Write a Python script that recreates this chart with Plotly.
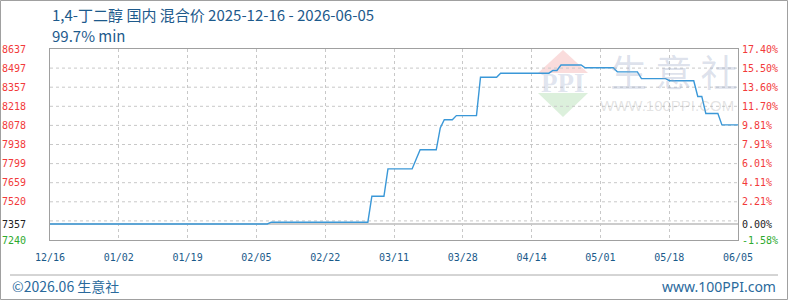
import plotly.graph_objects as go
import pandas as pd

# ---------------- data ----------------
title_line1 = "1,4-丁二醇 国内 混合价 2025-12-16 - 2026-06-05"
title_line2 = "99.7% min"
start_date = "2025-12-16"
end_date = "2026-06-05"

# price line vertices (dates where the price changes)
dates = ["2025-12-16", "2026-02-08", "2026-02-09", "2026-03-05", "2026-03-06",
         "2026-03-09", "2026-03-10", "2026-03-16", "2026-03-17", "2026-03-18",
         "2026-03-22", "2026-03-23", "2026-03-24", "2026-03-26", "2026-03-27",
         "2026-04-01", "2026-04-02", "2026-04-06", "2026-04-07", "2026-04-19",
         "2026-04-20", "2026-04-21", "2026-04-22", "2026-04-27", "2026-04-28",
         "2026-05-05", "2026-05-06", "2026-05-11", "2026-05-12", "2026-05-18",
         "2026-05-19", "2026-05-25", "2026-05-26", "2026-05-27", "2026-05-28",
         "2026-05-31", "2026-06-01", "2026-06-05"]
prices = [7357, 7357, 7370, 7370, 7560,
          7560, 7760, 7760, 7830, 7900,
          7900, 8060, 8120, 8120, 8150,
          8150, 8430, 8430, 8460, 8460,
          8480, 8480, 8520, 8520, 8500,
          8500, 8470, 8470, 8420, 8420,
          8405, 8405, 8290, 8290, 8165,
          8165, 8082, 8082]

base_price = 7357
y_min, y_max = 7240, 8637
left_labels = ["7240", "7357", "7520", "7659", "7799", "7938", "8078", "8218", "8357", "8497", "8637"]
right_labels = ["-1.58%", "0.00%", "2.21%", "4.11%", "6.01%", "7.91%", "9.81%", "11.70%", "13.60%", "15.50%", "17.40%"]
x_labels = ["12/16", "01/02", "01/19", "02/05", "02/22", "03/11", "03/28", "04/14", "05/01", "05/18", "06/05"]

# ---------------- derived positions ----------------
n_div = 10
step = (y_max - y_min) / n_div
grid_vals = [y_min + k * step for k in range(n_div + 1)]
label_vals = [y_min, base_price] + grid_vals[2:]

t0 = pd.Timestamp(start_date)
t1 = pd.Timestamp(end_date)
x_tickvals = [t0 + (t1 - t0) * k / n_div for k in range(n_div + 1)]

RED = "#f23a3a"
GREEN = "#2eaa2e"
BLACK = "#222222"
BLUE_TXT = "#1d5a8c"


def colored(labels):
    out = []
    for i, s in enumerate(labels):
        c = GREEN if i == 0 else (BLACK if i == 1 else RED)
        out.append(f'<span style="color:{c}">{s}</span>')
    return out


fig = go.Figure()
fig.add_trace(go.Scatter(x=pd.to_datetime(dates), y=prices, mode="lines",
                         line=dict(color="#3a98d8", width=1.4), hoverinfo="skip",
                         showlegend=False))
fig.add_trace(go.Scatter(x=pd.to_datetime(dates), y=prices, mode="lines",
                         line=dict(color="rgba(0,0,0,0)", width=0), yaxis="y2",
                         hoverinfo="skip", showlegend=False))

W, H = 788, 300
ML, MR, MT, MB = 50, 50, 49, 60
PL, PR, PT, PB = ML, W - MR, MT, H - MB


def px(x):
    return (x - PL) / (PR - PL)


def py(y):
    return (PB - y) / (PB - PT)


shapes = []
# watermark logo triangles
shapes.append(dict(type="path", xref="paper", yref="paper", layer="below",
                   path=f"M {px(538)} {py(73)} L {px(563)} {py(50)} L {px(588)} {py(73)} Z",
                   fillcolor="#fadcdc", line=dict(width=0)))
shapes.append(dict(type="path", xref="paper", yref="paper", layer="below",
                   path=f"M {px(538)} {py(93)} L {px(588)} {py(93)} L {px(563)} {py(117)} Z",
                   fillcolor="#dcf0dc", line=dict(width=0)))
# horizontal dashed grid
for v in grid_vals[1:-1]:
    shapes.append(dict(type="line", xref="paper", yref="y", x0=0, x1=1, y0=v, y1=v,
                       layer="between", line=dict(color="#c8c8c8", width=1, dash="3px,3px")))
# base price line
shapes.append(dict(type="line", xref="paper", yref="y", x0=0, x1=1, y0=base_price, y1=base_price,
                   layer="between", line=dict(color="#999999", width=1.2)))
# footer separator
shapes.append(dict(type="line", xref="paper", yref="paper", x0=px(10), x1=px(778),
                   y0=py(275), y1=py(275), line=dict(color="#aaaaaa", width=1)))
# outer frame
shapes.append(dict(type="rect", xref="paper", yref="paper", x0=px(0.5), x1=px(787.5),
                   y0=py(0.5), y1=py(299.5), line=dict(color="#a0a0a0", width=1)))

annotations = [
    dict(text=title_line1, xref="paper", yref="paper", x=0, y=py(15), xanchor="left",
         yanchor="middle", showarrow=False, font=dict(family="Noto Sans CJK SC", size=15, color=BLUE_TXT)),
    dict(text=title_line2, xref="paper", yref="paper", x=0, y=py(35), xanchor="left",
         yanchor="middle", showarrow=False, font=dict(family="Noto Sans CJK SC", size=15, color=BLUE_TXT)),
    dict(text="©2026.06 生意社", xref="paper", yref="paper", x=px(10), y=py(286), xanchor="left",
         yanchor="middle", showarrow=False, font=dict(family="Noto Sans CJK SC", size=14, color="#2a6a9c")),
    dict(text="www.100PPI.com", xref="paper", yref="paper", x=px(778), y=py(286), xanchor="right",
         yanchor="middle", showarrow=False, font=dict(family="Noto Sans", size=14, color="#2a6a9c")),
    # watermark
    dict(text="生 意 社", xref="paper", yref="paper", x=px(674), y=py(71), xanchor="center",
         yanchor="middle", showarrow=False,
         font=dict(family="Noto Sans CJK SC", size=37, color="rgba(150,165,195,0.32)")),
    dict(text="WWW.100PPI.COM", xref="paper", yref="paper", x=px(735), y=py(105), xanchor="right",
         yanchor="middle", showarrow=False, borderpad=0,
         font=dict(family="Liberation Sans", size=15, color="rgba(160,160,160,0.3)")),
    dict(text="<b>PPI</b>", xref="paper", yref="paper", x=px(563), y=py(83), xanchor="center",
         yanchor="middle", showarrow=False,
         font=dict(family="Liberation Serif", size=27, color="rgba(150,165,200,0.3)")),
]

tick_font = dict(family="DejaVu Sans Mono", size=10, color=RED)

fig.update_layout(
    width=W, height=H,
    margin=dict(l=ML, r=MR, t=MT, b=MB, pad=0, autoexpand=False),
    paper_bgcolor="white", plot_bgcolor="white",
    showlegend=False,
    shapes=shapes,
    annotations=annotations,
    xaxis=dict(type="date", range=[t0, t1], tickvals=x_tickvals, ticktext=x_labels,
               showgrid=True, gridcolor="#c8c8c8", griddash="3px,3px", gridwidth=1,
               showline=True, linecolor="#a0a0a0", linewidth=1, mirror=True,
               ticks="", zeroline=False, ticklabelstandoff=8, automargin=False,
               tickfont=dict(family="DejaVu Sans Mono", size=10, color="#1a5a8a")),
    yaxis=dict(range=[y_min, y_max], tickvals=label_vals, ticktext=colored(left_labels),
               showgrid=False, zeroline=False, showline=True, linecolor="#a0a0a0",
               linewidth=1, mirror=True, ticks="", ticklabelstandoff=21, automargin=False,
               tickfont=tick_font),
    yaxis2=dict(range=[y_min, y_max], tickvals=label_vals, ticktext=colored(right_labels),
                overlaying="y", side="right", showgrid=False, zeroline=False, automargin=False,
                showline=False, ticks="", ticklabelstandoff=3, tickfont=tick_font),
)

fig.write_html("out.html")
